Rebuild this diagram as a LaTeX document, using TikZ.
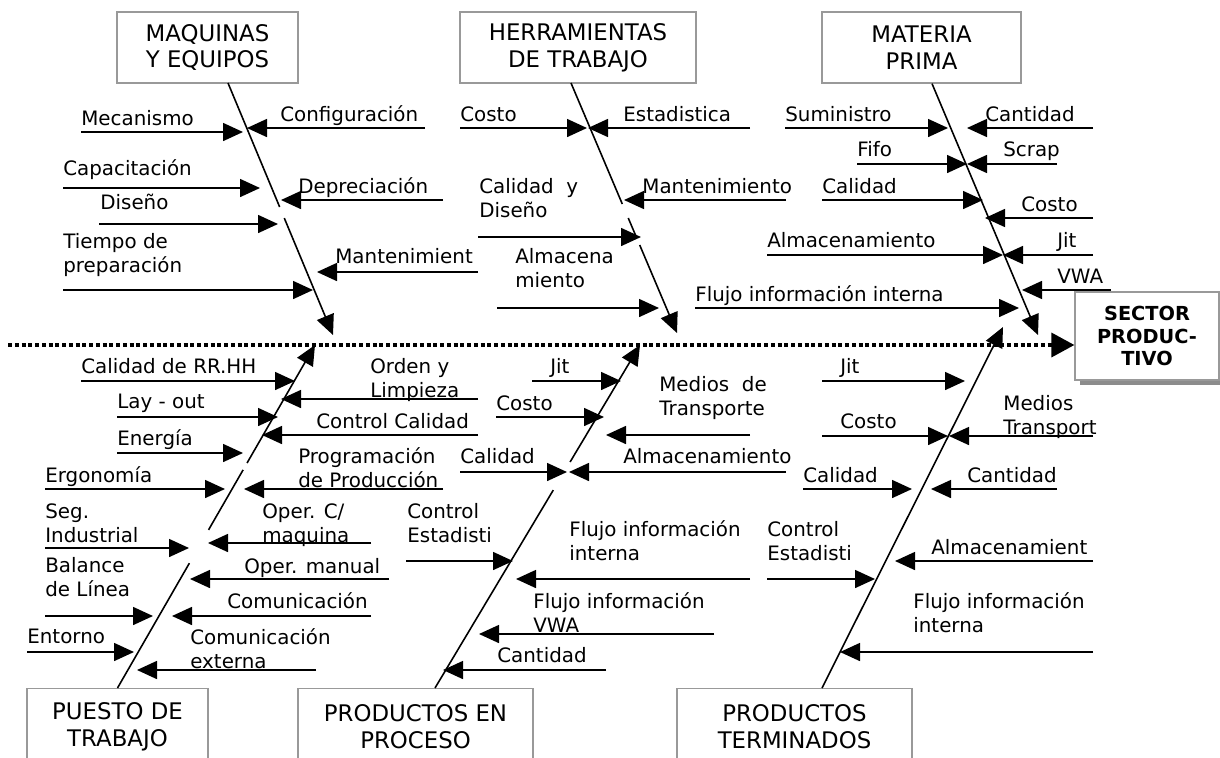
\documentclass[tikz,border=0pt]{standalone}
\usepackage{fontspec}
\setmainfont{DejaVu Sans}
\usetikzlibrary{arrows.meta, positioning, shadows, calc}
\newcommand{\lblfont}{\fontsize{11.3}{13.6}\selectfont}
\newcommand{\catfont}{\fontsize{13}{15.3}\selectfont}

\begin{document}
\begin{tikzpicture}[x=0.2mm, y=-0.2mm,
    lbl/.style={anchor=base west, inner sep=0pt, align=left, font=\lblfont},
    cause/.style={line width=0.9pt, -{Triangle[length=4mm, width=3.6mm]}},
    bone/.style={line width=0.9pt, -{Triangle[length=4mm, width=3.6mm]}},
    spine/.style={line width=0.7mm, dash pattern=on 0.8mm off 0.55mm,
      -{Triangle[length=4.6mm, width=4.8mm]}},
    catbox/.style={draw=black!40, line width=0.7pt, align=center,
      font=\catfont, inner sep=0pt, minimum height=14.2mm}]
  \useasboundingbox (0,0) rectangle (1220,757);

  % categories
  \node[catbox, minimum width=36.2mm] (maq) at (207.5,47.5) {MAQUINAS\\Y EQUIPOS};
  \node[catbox, minimum width=47.2mm] (herr) at (578,47.5) {HERRAMIENTAS\\DE TRABAJO};
  \node[catbox, minimum width=39.8mm] (mat) at (921.5,47.5) {MATERIA\\PRIMA};
  \node[catbox, anchor=north, minimum width=36.2mm, minimum height=15.2mm]
    (pue) at (117.5,688) {PUESTO DE\\TRABAJO};
  \node[catbox, anchor=north, minimum width=47mm, minimum height=15.2mm]
    (pep) at (415.5,688) {PRODUCTOS EN\\PROCESO};
  \node[catbox, anchor=north, minimum width=47mm, minimum height=15.2mm]
    (pt) at (794.5,688) {PRODUCTOS\\TERMINADOS};
  \node[catbox, font=\fontsize{11}{12.8}\selectfont\bfseries, fill=white,
    minimum width=28.8mm, minimum height=17.6mm,
    drop shadow={shadow xshift=1mm, shadow yshift=-1mm, fill=black!45, opacity=1}]
    (sector) at (1147,336) {SECTOR\\PRODUC-\\TIVO};

  % spine and bones
  \coordinate (spinestart) at (8,345);
  \draw[spine] (spinestart) -- (spinestart -| sector.west);

  \coordinate (maqtop) at (228,83);
  \coordinate (herrtop) at (571,83);
  \coordinate (maqtip) at (333,335);
  \coordinate (herrtip) at (677,333);
  \coordinate (mattip) at (1038,335);
  \coordinate (puetip) at (315,345);
  \coordinate (peptip) at (640,345);
  \coordinate (pttip) at (1003,327);
  \draw[bone] (maqtop) -- ($(maqtop)!0.492!(maqtip)$)
    ($(maqtop)!0.536!(maqtip)$) -- (maqtip);
  \draw[bone] (herrtop) -- ($(herrtop)!0.484!(herrtip)$)
    ($(herrtop)!0.54!(herrtip)$) -- ($(herrtop)!0.612!(herrtip)$)
    ($(herrtop)!0.648!(herrtip)$) -- (herrtip);
  \draw[bone] (mat.south -| 932,0) -- (mattip);
  \draw[bone] (pue.north) -- ($(pue.north)!0.364!(puetip)$)
    ($(pue.north)!0.461!(puetip)$) -- ($(pue.north)!0.636!(puetip)$)
    ($(pue.north)!0.656!(puetip)$) -- (puetip);
  \draw[bone] (pep.north -| 435,0) -- ($(pep.north -| 435,0)!0.577!(peptip)$)
    ($(pep.north -| 435,0)!0.659!(peptip)$) -- (peptip);
  \draw[bone] (pt.north -| 822,0) -- (pttip);

  % maquinas y equipos
  \draw[cause] (81,132) -- (243,132);
  \node[lbl] (mecanismo) at (81,125) {Mecanismo};
  \draw[cause] (425,128) -- (247,128);
  \node[lbl] (configuracion) at (280,121) {Configuración};
  \draw[cause] (63,188) -- (260,188);
  \node[lbl] (capacitacion) at (63,175) {Capacitación};
  \draw[cause] (443,200) -- (281,200);
  \node[lbl] (depreciacion) at (298,193) {Depreciación};
  \draw[cause] (99,224) -- (278,224);
  \node[lbl] (disenoM) at (100,209) {Diseño};
  \draw[cause] (63,290) -- (313,290);
  \node[lbl] (tiempoPrep) at (63,272) {Tiempo de\\preparación};
  \draw[cause] (478,272) -- (317,272);
  \node[lbl] (mantenM) at (335,263) {Mantenimient};

  % herramientas de trabajo
  \draw[cause] (460,128) -- (587,128);
  \node[lbl] (costoH) at (460,121) {Costo};
  \draw[cause] (750,128) -- (588,128);
  \node[lbl] (estadistica) at (623,121) {Estadistica};
  \draw[cause] (786,200) -- (624,200);
  \node[lbl] (mantenH) at (642,193) {Mantenimiento};
  \draw[cause] (478,237) -- (641,237);
  \node[lbl] (calidadDis) at (479,217) {Calidad~ y\\Diseño};
  \draw[cause] (497,308) -- (659,308);
  \node[lbl] (almacenH) at (515,287) {Almacena\\miento};

  % materia prima
  \draw[cause] (785,128) -- (948,128);
  \node[lbl] (suministro) at (785,121) {Suministro};
  \draw[cause] (1093,128) -- (967,128);
  \node[lbl] (cantidadMP) at (985,121) {Cantidad};
  \draw[cause] (857,164) -- (967,164);
  \node[lbl] (fifo) at (857,156) {Fifo};
  \draw[cause] (1057,164) -- (967,164);
  \node[lbl] (scrap) at (1003,156) {Scrap};
  \draw[cause] (822,200) -- (983,200);
  \node[lbl] (calidadMP) at (822,193) {Calidad};
  \draw[cause] (1093,218) -- (985,218);
  \node[lbl] (costoMP) at (1021,211) {Costo};
  \draw[cause] (767,255) -- (1003,255);
  \node[lbl] (almacenMP) at (767,247) {Almacenamiento};
  \draw[cause] (1093,255) -- (1003,255);
  \node[lbl] (jitMP) at (1057,247) {Jit};
  \draw[cause] (1111,290) -- (1022,290);
  \node[lbl] (vwaMP) at (1057,283) {VWA};
  \draw[cause] (695,308) -- (1019,308);
  \node[lbl] (flujoMP) at (695,301) {Flujo información interna};

  % puesto de trabajo
  \draw[cause] (81,381) -- (295,381);
  \node[lbl] (calidadRRHH) at (81,373) {Calidad de RR.HH};
  \draw[cause] (478,399) -- (281,399);
  \node[lbl] (orden) at (370,397) {Orden y\\Limpieza};
  \draw[cause] (117,417) -- (278,417);
  \node[lbl] (layout) at (117,408) {Lay - out};
  \draw[cause] (478,435) -- (262,435);
  \node[lbl] (controlCal) at (316,428) {Control Calidad};
  \draw[cause] (117,453) -- (243,453);
  \node[lbl] (energia) at (117,445) {Energía};
  \draw[cause] (443,489) -- (244,489);
  \node[lbl] (programacion) at (298,487) {Programación\\de Producción};
  \draw[cause] (45,489) -- (225,489);
  \node[lbl] (ergonomia) at (45,482) {Ergonomía};
  \draw[cause] (45,548) -- (189,548);
  \node[lbl] (segInd) at (45,542) {Seg.\\Industrial};
  \draw[cause] (371,543) -- (208,543);
  \node[lbl] (operMaq) at (262,542) {Oper. C/\\maquina};
  \draw[cause] (45,616) -- (153,616);
  \node[lbl] (balance) at (45,596) {Balance\\de Línea};
  \draw[cause] (389,579) -- (190,579);
  \node[lbl] (operManual) at (244,573) {Oper. manual};
  \draw[cause] (371,616) -- (172,616);
  \node[lbl] (comunic) at (227,608) {Comunicación};
  \draw[cause] (27,652) -- (134,652);
  \node[lbl] (entorno) at (27,643) {Entorno};
  \draw[cause] (316,670) -- (137,670);
  \node[lbl] (comExt) at (190,668) {Comunicación\\externa};

  % productos en proceso
  \draw[cause] (532,381) -- (621,381);
  \node[lbl] (jitPP) at (550,373) {Jit};
  \draw[cause] (496,417) -- (604,417);
  \node[lbl] (costoPP) at (496,410) {Costo};
  \draw[cause] (750,435) -- (606,435);
  \node[lbl] (mediosPP) at (659,415) {Medios~ de\\Transporte};
  \draw[cause] (460,472) -- (567,472);
  \node[lbl] (calidadPP) at (460,463) {Calidad};
  \draw[cause] (786,472) -- (569,472);
  \node[lbl] (almacenPP) at (623,463) {Almacenamiento};
  \draw[cause] (406,561) -- (513,561);
  \node[lbl] (controlPP) at (407,542) {Control\\Estadisti};
  \draw[cause] (750,579) -- (516,579);
  \node[lbl] (flujoPP) at (569,560) {Flujo información\\interna};
  \draw[cause] (714,634) -- (479,634);
  \node[lbl] (flujoVWA) at (533,632) {Flujo información\\VWA};
  \draw[cause] (606,670) -- (443,670);
  \node[lbl] (cantidadPP) at (497,662) {Cantidad};

  % productos terminados
  \draw[cause] (822,381) -- (965,381);
  \node[lbl] (jitPT) at (840,373) {Jit};
  \draw[cause] (822,436) -- (948,436);
  \node[lbl] (costoPT) at (840,428) {Costo};
  \draw[cause] (1093,436) -- (949,436);
  \node[lbl] (mediosPT) at (1003,434) {Medios\\Transport};
  \draw[cause] (803,489) -- (912,489);
  \node[lbl] (calidadPT) at (803,482) {Calidad};
  \draw[cause] (1057,489) -- (931,489);
  \node[lbl] (cantidadPT) at (967,482) {Cantidad};
  \draw[cause] (767,579) -- (875,579);
  \node[lbl] (controlPT) at (767,560) {Control\\Estadisti};
  \draw[cause] (1093,561) -- (895,561);
  \node[lbl] (almacenPT) at (931,554) {Almacenamient};
  \draw[cause] (1093,652) -- (840,652);
  \node[lbl] (flujoPT) at (913,632) {Flujo información\\interna};
\end{tikzpicture}
\end{document}
